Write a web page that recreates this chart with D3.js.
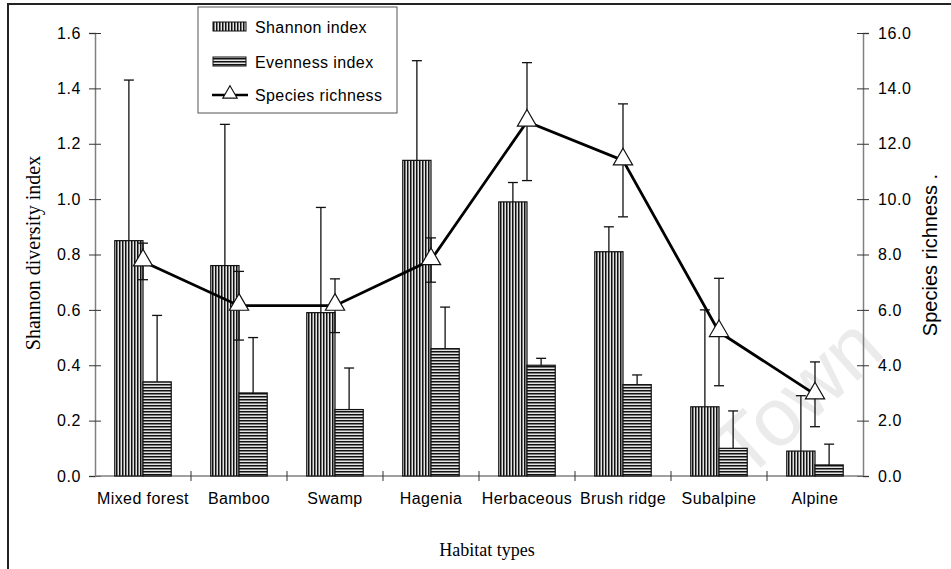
<!DOCTYPE html>
<html>
<head>
<meta charset="utf-8">
<script src="https://cdn.jsdelivr.net/npm/d3@7"></script>
<style>
  body { margin: 0; background: #fff; }
  svg { display: block; }
  .tick text { font-family: "Liberation Sans", Arial, sans-serif; font-size: 16px; letter-spacing: 0.6px; fill: #000; }
</style>
</head>
<body>
<svg width="951" height="569"></svg>
<script>
const categories = ["Mixed forest", "Bamboo", "Swamp", "Hagenia", "Herbaceous", "Brush ridge", "Subalpine", "Alpine"];
const shannon = [0.85, 0.76, 0.59, 1.14, 0.99, 0.81, 0.25, 0.09];
const shannonErr = [0.58, 0.51, 0.38, 0.36, 0.07, 0.09, 0.35, 0.20];
const evenness = [0.34, 0.30, 0.24, 0.46, 0.40, 0.33, 0.10, 0.04];
const evennessErr = [0.24, 0.20, 0.15, 0.15, 0.025, 0.035, 0.135, 0.075];
const richness = [7.75, 6.15, 6.15, 7.8, 12.8, 11.4, 5.2, 2.95];
const richnessErr = [0.66, 1.24, 0.97, 0.8, 2.13, 2.04, 1.94, 1.17];
const leftTicks = [0, 0.2, 0.4, 0.6, 0.8, 1.0, 1.2, 1.4, 1.6];
const rightTicks = [0, 2, 4, 6, 8, 10, 12, 14, 16];
const seriesNames = ["Shannon index", "Evenness index", "Species richness"];

let svg = d3.select("svg");

let padding = { top: 33, right: 88, bottom: 93, left: 95 };
const W = 951, H = 569;
const chartArea = {
  width: W - padding.left - padding.right,
  height: H - padding.top - padding.bottom
};

const xScale = d3.scaleBand().domain(categories).range([0, chartArea.width]);
const subScale = d3.scaleBand().domain(["shannon", "evenness"])
                   .range([0, xScale.bandwidth()]).paddingOuter(0.7);
const yScale = d3.scaleLinear().domain([0, 1.6]).range([chartArea.height, 0]);
const y2Scale = d3.scaleLinear().domain([0, 16]).range([chartArea.height, 0]);

// stripe patterns
const defs = svg.append("defs");
const vp = defs.append("pattern").attr("id", "vstripe")
  .attr("width", 3).attr("height", 3).attr("patternUnits", "userSpaceOnUse");
vp.append("rect").attr("width", 3).attr("height", 3).attr("fill", "#e4e4e4");
vp.append("rect").attr("width", 1).attr("height", 3).attr("fill", "#111");
vp.append("rect").attr("x", 1).attr("width", 1).attr("height", 3).attr("fill", "#7a7a7a");
const hp = defs.append("pattern").attr("id", "hstripe")
  .attr("width", 3).attr("height", 3).attr("patternUnits", "userSpaceOnUse");
hp.append("rect").attr("width", 3).attr("height", 3).attr("fill", "#e4e4e4");
hp.append("rect").attr("width", 3).attr("height", 1).attr("fill", "#111");
hp.append("rect").attr("y", 1).attr("width", 3).attr("height", 1).attr("fill", "#7a7a7a");

// watermark
svg.append("text")
  .attr("transform", "translate(745,482) rotate(-42)")
  .style("font-family", "Liberation Sans, Arial, sans-serif")
  .style("font-size", "82px")
  .attr("fill", "#ebebeb")
  .text("Town");

// outer frame
svg.append("rect")
  .attr("x", 8).attr("y", 4).attr("width", 960).attr("height", 580)
  .attr("fill", "none").attr("stroke", "#222").attr("stroke-width", 2);

let plot = svg.append("g")
  .attr("transform", "translate(" + padding.left + "," + padding.top + ")");

// axes
const yAxis = plot.append("g").call(
  d3.axisLeft(yScale).tickValues(leftTicks).tickFormat(d3.format(".1f"))
    .tickSize(6).tickPadding(8));
const y2Axis = plot.append("g")
  .attr("transform", "translate(" + chartArea.width + ",0)")
  .call(d3.axisRight(y2Scale).tickValues(rightTicks).tickFormat(d3.format(".1f"))
    .tickSize(6).tickPadding(9));
[yAxis, y2Axis].forEach(a => {
  a.select(".domain").attr("stroke", "#808080").attr("stroke-width", 1.5);
  a.selectAll(".tick line").attr("x1", a === yAxis ? 6 : -6).attr("stroke", "#333");
});

const xAxisG = plot.append("g").attr("transform", "translate(0," + chartArea.height + ")");
xAxisG.append("line").attr("x1", 0).attr("x2", chartArea.width)
  .attr("stroke", "#808080").attr("stroke-width", 1.5);
xAxisG.selectAll("line.tk").data(categories.slice(1)).enter().append("line")
  .attr("class", "tk")
  .attr("x1", d => xScale(d)).attr("x2", d => xScale(d))
  .attr("y1", -5).attr("y2", 5).attr("stroke", "#333");
xAxisG.selectAll("text").data(categories).enter().append("text")
  .attr("x", d => xScale(d) + xScale.bandwidth() / 2)
  .attr("y", 28)
  .attr("text-anchor", "middle")
  .style("font-family", "Liberation Sans, Arial, sans-serif")
  .style("font-size", "16px")
  .style("letter-spacing", "0.4px")
  .text(d => d);

// bars
const bars = [
  { key: "shannon", vals: shannon, err: shannonErr, fill: "url(#vstripe)" },
  { key: "evenness", vals: evenness, err: evennessErr, fill: "url(#hstripe)" }
];
bars.forEach(s => {
  const g = plot.append("g");
  g.selectAll("rect").data(categories).enter().append("rect")
    .attr("x", d => xScale(d) + subScale(s.key))
    .attr("width", subScale.bandwidth())
    .attr("y", (d, i) => yScale(s.vals[i]))
    .attr("height", (d, i) => chartArea.height - yScale(s.vals[i]))
    .attr("fill", s.fill)
    .attr("stroke", "#111").attr("stroke-width", 1.2);
});
bars.forEach(s => {
  const g = plot.append("g").attr("stroke", "#111").attr("stroke-width", 1.3);
  categories.forEach((c, i) => {
    const cx = xScale(c) + subScale(s.key) + subScale.bandwidth() / 2;
    const top = yScale(s.vals[i] + s.err[i]);
    g.append("line").attr("x1", cx).attr("x2", cx)
      .attr("y1", yScale(s.vals[i])).attr("y2", top);
    g.append("line").attr("x1", cx - 5).attr("x2", cx + 5)
      .attr("y1", top).attr("y2", top);
  });
});

// species richness line
const cxOf = c => xScale(c) + xScale.bandwidth() / 2;
const line = d3.line().x(d => cxOf(d)).y((d, i) => y2Scale(richness[i]));
plot.append("path").datum(categories)
  .attr("d", line).attr("fill", "none")
  .attr("stroke", "#000").attr("stroke-width", 2.8);

const eg = plot.append("g").attr("stroke", "#111").attr("stroke-width", 1.3);
categories.forEach((c, i) => {
  const cx = cxOf(c);
  const hi = y2Scale(richness[i] + richnessErr[i]);
  const lo = y2Scale(richness[i] - richnessErr[i]);
  eg.append("line").attr("x1", cx).attr("x2", cx).attr("y1", hi).attr("y2", lo);
  eg.append("line").attr("x1", cx - 5).attr("x2", cx + 5).attr("y1", hi).attr("y2", hi);
  eg.append("line").attr("x1", cx - 5).attr("x2", cx + 5).attr("y1", lo).attr("y2", lo);
});

const tri = d3.symbol().type(d3.symbolTriangle).size(160);
plot.selectAll("path.mk").data(categories).enter().append("path")
  .attr("class", "mk")
  .attr("d", tri)
  .attr("transform", (d, i) => "translate(" + cxOf(d) + "," + (y2Scale(richness[i]) - 1) + ")")
  .attr("fill", "#fff").attr("stroke", "#111").attr("stroke-width", 1.2);

// axis titles
svg.append("text")
  .attr("transform", "translate(40," + (padding.top + 220) + ") rotate(-90)")
  .attr("text-anchor", "middle")
  .style("font-family", "Liberation Serif, Times New Roman, serif")
  .style("font-size", "20px")
  .text("Shannon diversity index");
svg.append("text")
  .attr("transform", "translate(937," + (padding.top + 222) + ") rotate(-90)")
  .attr("text-anchor", "middle")
  .style("font-family", "Liberation Sans, Arial, sans-serif")
  .style("font-size", "20px")
  .text("Species richness .");
svg.append("text")
  .attr("x", 487).attr("y", 556)
  .attr("text-anchor", "middle")
  .style("font-family", "Liberation Serif, Times New Roman, serif")
  .style("font-size", "18px")
  .text("Habitat types");

// legend
const lg = svg.append("g").attr("transform", "translate(198,7)");
lg.append("rect").attr("width", 199).attr("height", 106)
  .attr("fill", "#fff").attr("stroke", "#555").attr("stroke-width", 1);
const rows = [20, 55, 88];
seriesNames.forEach((n, i) => {
  const y = rows[i];
  if (i < 2) {
    lg.append("rect").attr("x", 15).attr("y", y - 5).attr("width", 33).attr("height", 9)
      .attr("fill", i === 0 ? "url(#vstripe)" : "url(#hstripe)")
      .attr("stroke", "#111").attr("stroke-width", 1);
  } else {
    lg.append("line").attr("x1", 14).attr("x2", 50).attr("y1", y).attr("y2", y)
      .attr("stroke", "#000").attr("stroke-width", 2.6);
    lg.append("path").attr("d", d3.symbol().type(d3.symbolTriangle).size(90))
      .attr("transform", "translate(32," + (y - 1) + ")")
      .attr("fill", "#fff").attr("stroke", "#111").attr("stroke-width", 1.1);
  }
  lg.append("text").attr("x", 57).attr("y", y + 6)
    .style("font-family", "Liberation Sans, Arial, sans-serif")
    .style("font-size", "16px")
    .style("letter-spacing", "0.4px")
    .text(n);
});
</script>
</body>
</html>
